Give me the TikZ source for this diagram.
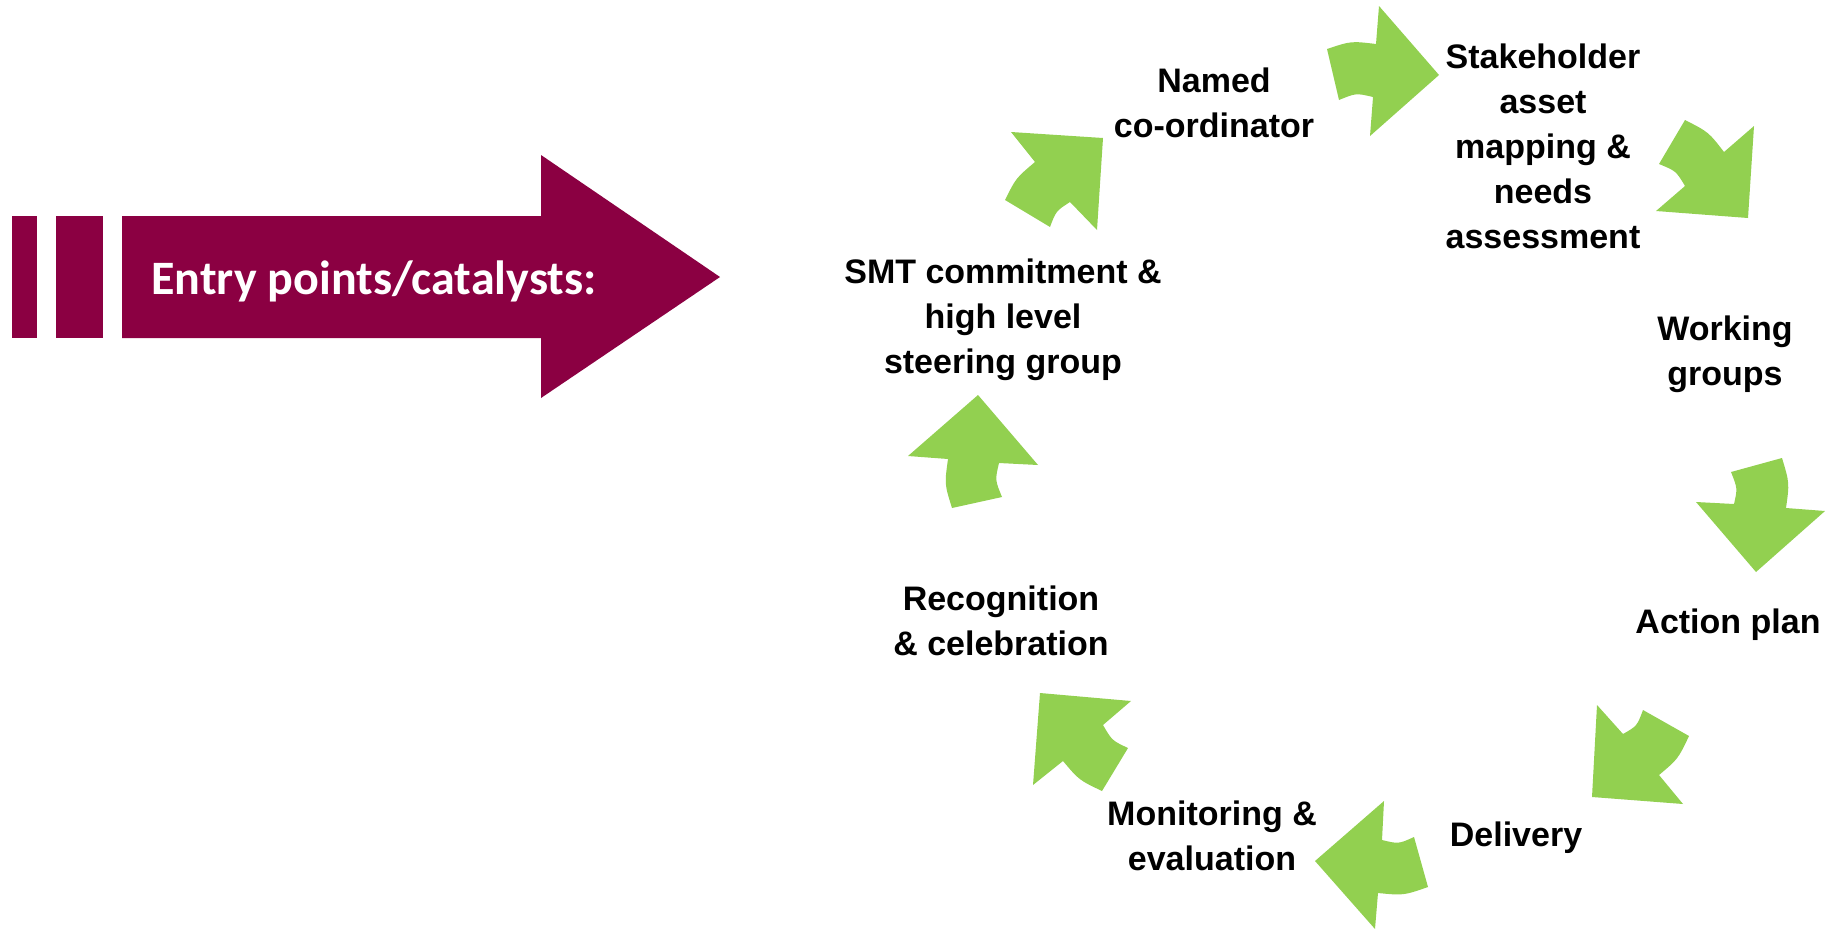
\documentclass[tikz,border=0pt]{standalone}
\usepackage{fontspec}
\setmainfont{Liberation Sans}
\newfontfamily\entryfont{Carlito}
\definecolor{maroonA}{RGB}{139,0,66}
\definecolor{greenA}{RGB}{146,208,80}
\tikzset{
  lbl/.style={align=center, inner sep=0pt, font=\bfseries\fontsize{34}{45}\selectfont, text=black},
  garrow/.style={fill=greenA, draw=none},
  marrow/.style={fill=maroonA, draw=none}
}
\begin{document}
\begin{tikzpicture}[x=1pt,y=-1pt]
\useasboundingbox (0,0) rectangle (1833,930);
% maroon entry arrow
\fill[marrow] (12,216) rectangle (36.7,338);
\fill[marrow] (56,216) rectangle (103,338);
\fill[marrow] (122,216) -- (541,216) -- (541,155) -- (720,277) -- (541,398) -- (541,338) -- (122,338) -- cycle;
\node[inner sep=0pt, text=white, font=\entryfont\bfseries\fontsize{48}{56}\selectfont] (entry) at (374,281) {Entry points/catalysts:};
% green cycle arrows
\fill[garrow] (1011,132) -- (1103,138) -- (1097,230) -- (1070,202) .. controls (1056,211) .. (1050,227) -- (1005,200) .. controls (1016,178) .. (1035,162) -- cycle;
\fill[garrow] (1327,49) .. controls (1351,41) .. (1376,44) -- (1379,6) -- (1439,75) -- (1370,136) -- (1373,97) .. controls (1356,93) .. (1339,100) -- cycle;
\fill[garrow] (1685,120) .. controls (1708.5,132) .. (1724,152) -- (1754,126) -- (1748,218) -- (1656,211) -- (1685,186) .. controls (1676,171) .. (1659,164) -- cycle;
\fill[garrow] (1731,472) -- (1782,458) .. controls (1789.5,483) .. (1786,508) -- (1825,511) -- (1756,572) -- (1696,502) -- (1734,504) .. controls (1737.5,488.4) .. (1731,472) -- cycle;
\fill[garrow] (1597,705) -- (1623,734) .. controls (1637,726) .. (1643,710) -- (1689,736) .. controls (1678,759) .. (1659,775) -- (1683,804) -- (1592,797) -- cycle;
\fill[garrow] (1384,801) -- (1382,840) .. controls (1398.5,844) .. (1414,837) -- (1428,887) .. controls (1403.5,895.5) .. (1378,893) -- (1375,929) -- (1315,861) -- cycle;
\fill[garrow] (1040,693) -- (1131,701) -- (1103,725) .. controls (1112,740.5) .. (1128,748) -- (1102,791) .. controls (1079,780) .. (1063,761) -- (1033,785) -- cycle;
\fill[garrow] (978,395) -- (1038,465) -- (999,463) .. controls (995,480) .. (1002,497) -- (952,508) .. controls (944.5,484) .. (948,459) -- (908,456) -- cycle;
% labels
\node[lbl] (named) at (1214,103) {Named\\co-ordinator};
\node[lbl] (stake) at (1543,146) {Stakeholder\\asset\\mapping \&\\needs\\assessment};
\node[lbl] (work) at (1725,354) {Working\\groups};
\node[lbl] (action) at (1728,625) {Action plan};
\node[lbl] (deliv) at (1516,838) {Delivery};
\node[lbl] (monit) at (1212,836) {Monitoring \&\\evaluation};
\node[lbl] (recog) at (1001,621) {Recognition\\\& celebration};
\node[lbl] (smt) at (1003,320) {SMT commitment \&\\high level\\steering group};
\end{tikzpicture}
\end{document}
